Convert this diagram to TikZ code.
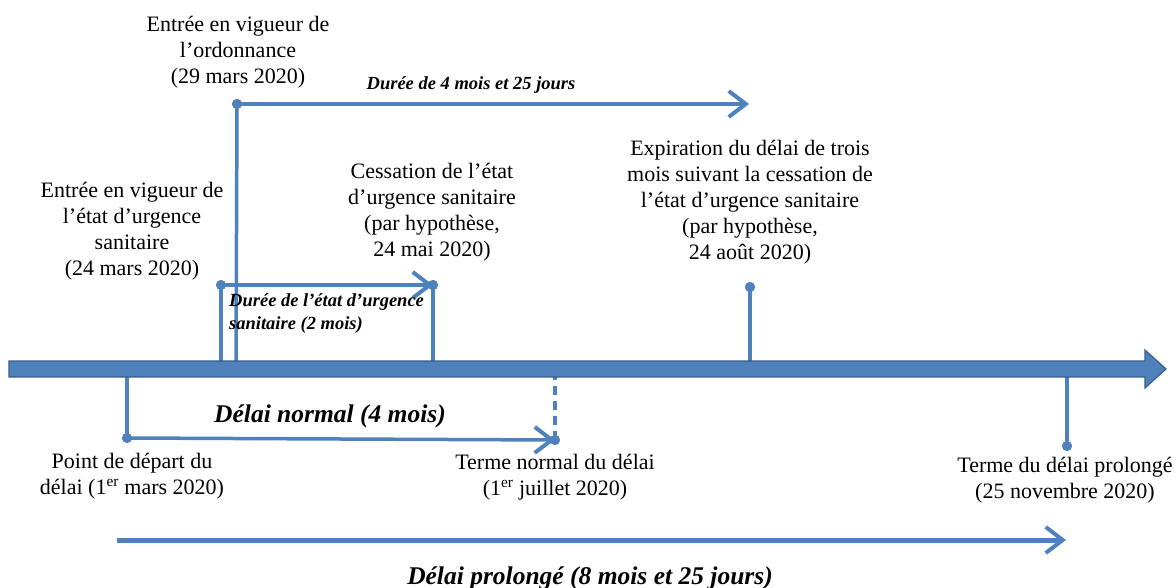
\documentclass[tikz,border=0pt]{standalone}
\usepackage{fontspec}
\setmainfont{Liberation Serif}
\usetikzlibrary{arrows.meta}
\definecolor{lblue}{RGB}{79,129,189}
\definecolor{dblue}{RGB}{56,93,138}
\begin{document}
\begin{tikzpicture}[x=1pt,y=-1pt,
  conn/.style={lblue,line width=3.5pt},
  chev/.style={conn,-{Straight Barb[length=17pt,width=26pt,line width=4pt]}},
  dot/.style={circle,fill=lblue,inner sep=0pt,minimum size=10pt},
  lbl/.style={align=center,inner sep=0pt,font=\fontsize{22}{26}\selectfont},
  bi/.style={inner sep=0pt,font=\bfseries\itshape\fontsize{18.5}{23}\selectfont},
  bibig/.style={inner sep=0pt,font=\bfseries\itshape\fontsize{25.5}{28}\selectfont},
]
\useasboundingbox (0,0) rectangle (1176,588);

% dots
\node[dot] (d1) at (237,104) {};
\node[dot] (d2) at (221,285) {};
\node[dot] (d3) at (433,285) {};
\node[dot] (d4) at (750,287) {};
\node[dot] (d5) at (127,438) {};
\node[dot] (d6) at (555,440) {};
\node[dot] (d7) at (1067,446) {};

% timeline anchor coordinates
\coordinate (t1) at (236,361);
\coordinate (t2) at (221,361);
\coordinate (t3) at (433,361);
\coordinate (t4) at (750,361);
\coordinate (b5) at (127,377);
\coordinate (b6) at (555,377);
\coordinate (b7) at (1067,377);
\coordinate (e1) at (749,104);
\coordinate (p1) at (117,540);
\coordinate (p2) at (1066,540);

% connectors
\draw[conn] (d1.center) -- (t1);
\draw[chev] (d1.center) -- (e1);
\draw[conn] (d2.center) -- (t2);
\draw[chev] (d2.center) -- (d3.center);
\draw[conn] (d3.center) -- (t3);
\draw[conn] (d4.center) -- (t4);
\draw[conn] (d5.center) -- (b5);
\draw[chev] (d5.center) -- (d6.center);
\draw[conn,dash pattern=on 9pt off 6pt] (d6.center) -- (b6);
\draw[conn] (d7.center) -- (b7);
\draw[chev,line width=5pt] (p1) -- (p2);

% main timeline
\draw[dblue,fill=lblue,line width=1.2pt] (9,361) -- (1145,361) -- (1145,350) -- (1166,369) -- (1145,388) -- (1145,377) -- (9,377) -- cycle;

% redraw dots on top
\foreach \n in {d1,d2,d3,d4,d5,d6,d7} \fill[lblue] (\n) circle (5pt);

% labels
\node[lbl] (l1) at (238,52) {Entrée en vigueur de\\l’ordonnance\\(29 mars 2020)};
\node[lbl] (l2) at (132,231) {Entrée en vigueur de\\l’état d’urgence\\sanitaire\\(24 mars 2020)};
\node[lbl] (l3) at (432,212) {Cessation de l’état\\d’urgence sanitaire\\(par hypothèse,\\24 mai 2020)};
\node[lbl] (l4) at (750,202) {Expiration du délai de trois\\mois suivant la cessation de\\l’état d’urgence sanitaire\\(par hypothèse,\\24 août 2020)};
\node[lbl] (l5) at (132,476) {Point de départ du\\délai (1\textsuperscript{er} mars 2020)};
\node[lbl] (l6) at (555,477) {Terme normal du délai\\(1\textsuperscript{er} juillet 2020)};
\node[lbl] (l7) at (1065,480) {Terme du délai prolongé\\(25 novembre 2020)};

\node[bi] (n1) at (471,85) {Durée de 4 mois et 25 jours};
\node[bi,align=left,anchor=west] (n2) at (229,314) {Durée de l’état d’urgence\\sanitaire (2 mois)};
\node[bibig] (n3) at (330,416) {Délai normal (4 mois)};
\node[bibig] (n4) at (590,578) {Délai prolongé (8 mois et 25 jours)};
\end{tikzpicture}
\end{document}
